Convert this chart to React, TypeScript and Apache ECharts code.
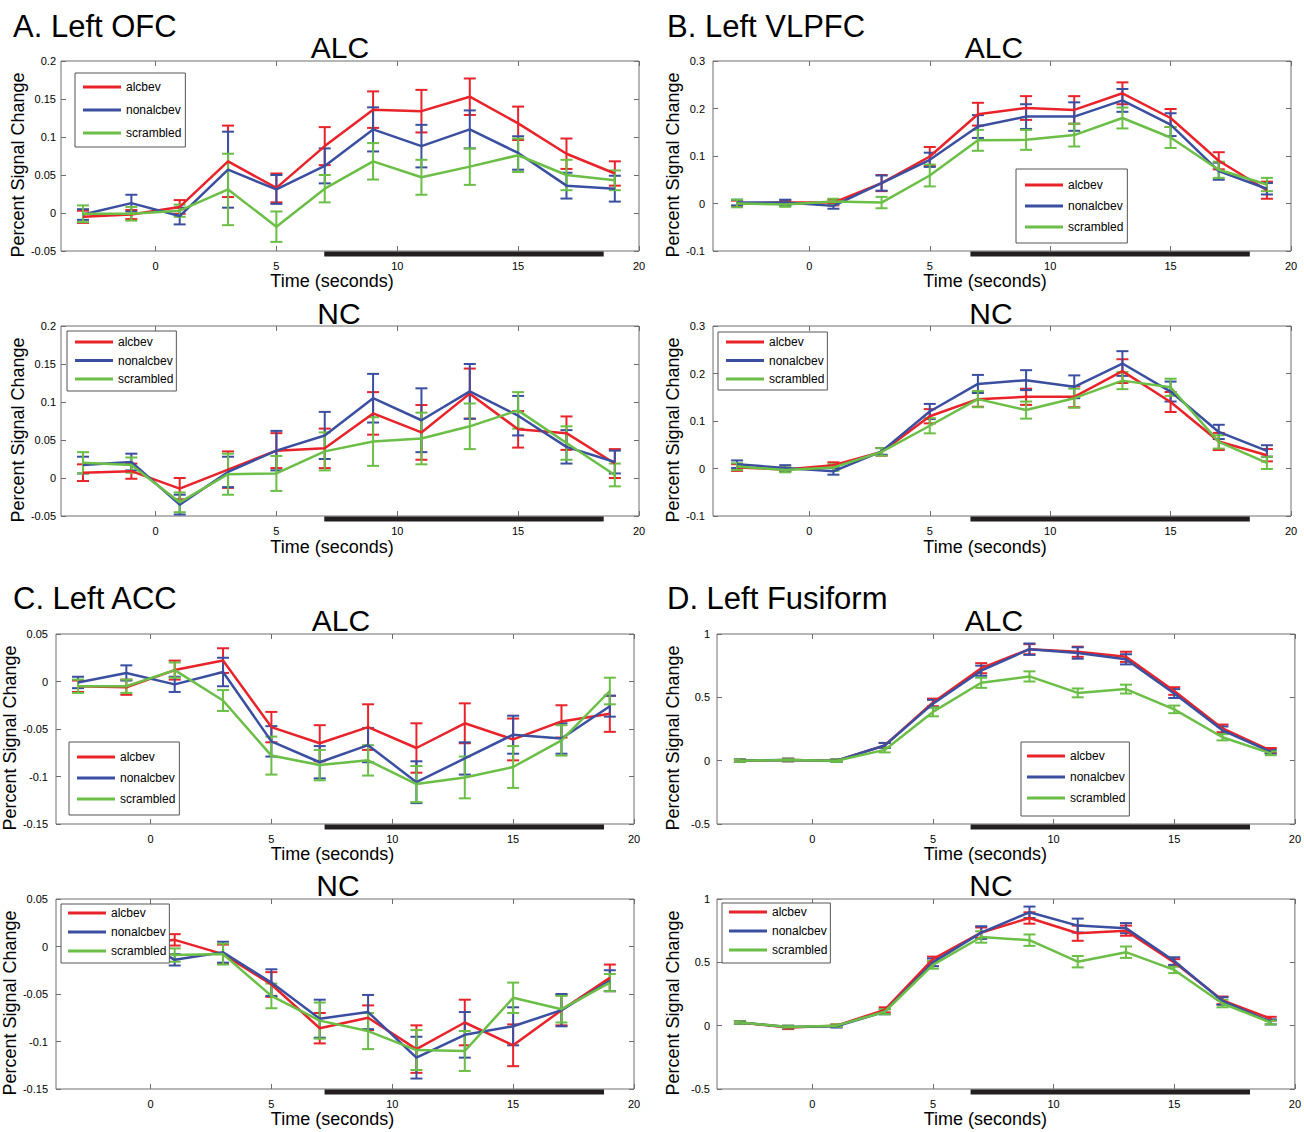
import React, { useEffect, useRef } from 'react';
import * as echarts from 'echarts';

const FONT = '"Liberation Sans", Arial, Helvetica, sans-serif';

// ---------- shared ----------
const timePoints = [-3, -1, 1, 3, 5, 7, 9, 11, 13, 15, 17, 19];
const conditionNames = ['alcbev', 'nonalcbev', 'scrambled'];
const conditionColors = ['#E8232A', '#3B4FA1', '#6BBE46'];
const xTickValues = [0, 5, 10, 15, 20];
const regionTitles = ['A. Left OFC', 'B. Left VLPFC', 'C. Left ACC', 'D. Left Fusiform'];
const groupTitles = ['ALC', 'NC'];

// ---------- A. Left OFC ----------
const ofcAlcAlcbev = [-0.005, -0.002, 0.008, 0.068, 0.033, 0.088, 0.136, 0.134, 0.153, 0.118, 0.078, 0.052];
const ofcAlcAlcbevErr = [0.008, 0.006, 0.009, 0.047, 0.019, 0.025, 0.024, 0.028, 0.024, 0.022, 0.02, 0.016];
const ofcAlcNonalcbev = [-0.002, 0.013, -0.004, 0.057, 0.031, 0.062, 0.11, 0.088, 0.11, 0.079, 0.036, 0.032];
const ofcAlcNonalcbevErr = [0.007, 0.011, 0.011, 0.05, 0.019, 0.023, 0.029, 0.028, 0.025, 0.022, 0.017, 0.017];
const ofcAlcScrambled = [-0.001, -0.001, 0.003, 0.031, -0.018, 0.032, 0.068, 0.047, 0.061, 0.076, 0.05, 0.043];
const ofcAlcScrambledErr = [0.011, 0.009, 0.008, 0.047, 0.02, 0.018, 0.024, 0.023, 0.024, 0.022, 0.02, 0.013];

const ofcNcAlcbev = [0.007, 0.009, -0.014, 0.011, 0.036, 0.039, 0.085, 0.06, 0.111, 0.064, 0.059, 0.019];
const ofcNcAlcbevErr = [0.011, 0.01, 0.014, 0.024, 0.023, 0.026, 0.028, 0.036, 0.033, 0.024, 0.022, 0.019];
const ofcNcNonalcbev = [0.017, 0.021, -0.035, 0.008, 0.036, 0.056, 0.105, 0.076, 0.114, 0.082, 0.041, 0.021];
const ofcNcNonalcbevErr = [0.011, 0.011, 0.013, 0.02, 0.026, 0.031, 0.032, 0.042, 0.036, 0.026, 0.022, 0.015];
const ofcNcScrambled = [0.02, 0.017, -0.032, 0.005, 0.006, 0.035, 0.048, 0.052, 0.068, 0.089, 0.046, 0.004];
const ofcNcScrambledErr = [0.014, 0.01, 0.013, 0.027, 0.023, 0.025, 0.032, 0.034, 0.03, 0.024, 0.022, 0.015];

// ---------- B. Left VLPFC ----------
const vlpfcAlcAlcbev = [0.0, 0.002, 0.002, 0.043, 0.099, 0.188, 0.201, 0.197, 0.232, 0.18, 0.09, 0.028];
const vlpfcAlcAlcbevErr = [0.006, 0.005, 0.006, 0.017, 0.02, 0.024, 0.025, 0.029, 0.023, 0.019, 0.018, 0.018];
const vlpfcAlcNonalcbev = [0.002, 0.002, -0.005, 0.043, 0.092, 0.162, 0.183, 0.183, 0.217, 0.166, 0.068, 0.031];
const vlpfcAlcNonalcbevErr = [0.006, 0.006, 0.006, 0.016, 0.015, 0.024, 0.026, 0.03, 0.024, 0.024, 0.018, 0.012];
const vlpfcAlcScrambled = [0.0, -0.002, 0.004, 0.002, 0.059, 0.133, 0.134, 0.144, 0.18, 0.139, 0.071, 0.04];
const vlpfcAlcScrambledErr = [0.008, 0.005, 0.006, 0.012, 0.023, 0.022, 0.021, 0.024, 0.022, 0.022, 0.017, 0.014];

const vlpfcNcAlcbev = [0.002, -0.002, 0.007, 0.035, 0.11, 0.146, 0.151, 0.151, 0.205, 0.14, 0.057, 0.028];
const vlpfcNcAlcbevErr = [0.007, 0.004, 0.006, 0.008, 0.015, 0.016, 0.017, 0.022, 0.025, 0.021, 0.018, 0.013];
const vlpfcNcNonalcbev = [0.009, 0.001, -0.006, 0.036, 0.12, 0.178, 0.186, 0.172, 0.221, 0.162, 0.077, 0.037];
const vlpfcNcNonalcbevErr = [0.008, 0.006, 0.007, 0.007, 0.016, 0.019, 0.021, 0.024, 0.026, 0.021, 0.015, 0.012];
const vlpfcNcScrambled = [0.004, -0.003, 0.002, 0.035, 0.09, 0.146, 0.123, 0.148, 0.185, 0.171, 0.056, 0.012];
const vlpfcNcScrambledErr = [0.007, 0.005, 0.007, 0.008, 0.016, 0.017, 0.018, 0.02, 0.018, 0.018, 0.014, 0.013];

// ---------- C. Left ACC ----------
const accAlcAlcbev = [-0.005, -0.006, 0.012, 0.022, -0.048, -0.065, -0.048, -0.07, -0.044, -0.061, -0.042, -0.034];
const accAlcAlcbevErr = [0.006, 0.008, 0.01, 0.013, 0.016, 0.019, 0.024, 0.026, 0.021, 0.022, 0.017, 0.019];
const accAlcNonalcbev = [-0.001, 0.009, -0.003, 0.01, -0.063, -0.085, -0.067, -0.106, -0.081, -0.056, -0.06, -0.026];
const accAlcNonalcbevErr = [0.006, 0.008, 0.008, 0.015, 0.016, 0.017, 0.018, 0.022, 0.017, 0.02, 0.016, 0.011];
const accAlcScrambled = [-0.005, -0.005, 0.012, -0.02, -0.078, -0.088, -0.083, -0.108, -0.101, -0.09, -0.062, -0.01];
const accAlcScrambledErr = [0.007, 0.007, 0.008, 0.011, 0.02, 0.016, 0.016, 0.019, 0.022, 0.022, 0.016, 0.014];

const accNcAlcbev = [-0.003, 0.0, 0.007, -0.008, -0.04, -0.086, -0.075, -0.108, -0.08, -0.104, -0.067, -0.033];
const accNcAlcbevErr = [0.006, 0.006, 0.006, 0.01, 0.013, 0.016, 0.013, 0.025, 0.024, 0.022, 0.016, 0.014];
const accNcNonalcbev = [0.0, 0.015, -0.014, -0.006, -0.038, -0.076, -0.069, -0.117, -0.093, -0.084, -0.067, -0.036];
const accNcNonalcbevErr = [0.006, 0.006, 0.006, 0.011, 0.014, 0.02, 0.018, 0.022, 0.024, 0.02, 0.017, 0.011];
const accNcScrambled = [-0.003, -0.001, -0.009, -0.008, -0.052, -0.078, -0.089, -0.109, -0.11, -0.054, -0.066, -0.038];
const accNcScrambledErr = [0.006, 0.006, 0.007, 0.011, 0.013, 0.019, 0.019, 0.021, 0.021, 0.016, 0.014, 0.009];

// ---------- D. Left Fusiform ----------
const fusAlcAlcbev = [0.0, 0.005, 0.0, 0.12, 0.46, 0.73, 0.88, 0.86, 0.82, 0.55, 0.255, 0.08];
const fusAlcAlcbevErr = [0.01, 0.01, 0.01, 0.02, 0.03, 0.04, 0.04, 0.04, 0.04, 0.03, 0.03, 0.02];
const fusAlcNonalcbev = [0.0, 0.006, 0.0, 0.12, 0.45, 0.71, 0.88, 0.85, 0.8, 0.53, 0.24, 0.07];
const fusAlcNonalcbevErr = [0.01, 0.01, 0.01, 0.02, 0.03, 0.04, 0.045, 0.045, 0.04, 0.035, 0.03, 0.015];
const fusAlcScrambled = [0.0, 0.005, 0.0, 0.085, 0.385, 0.615, 0.665, 0.535, 0.565, 0.405, 0.185, 0.058];
const fusAlcScrambledErr = [0.01, 0.01, 0.01, 0.02, 0.035, 0.04, 0.04, 0.035, 0.035, 0.03, 0.025, 0.015];

const fusNcAlcbev = [0.025, -0.015, 0.0, 0.125, 0.525, 0.735, 0.85, 0.73, 0.75, 0.5, 0.2, 0.055];
const fusNcAlcbevErr = [0.01, 0.012, 0.01, 0.02, 0.02, 0.04, 0.045, 0.06, 0.04, 0.025, 0.03, 0.015];
const fusNcNonalcbev = [0.025, -0.01, -0.005, 0.11, 0.5, 0.735, 0.895, 0.79, 0.77, 0.51, 0.195, 0.03];
const fusNcNonalcbevErr = [0.01, 0.01, 0.01, 0.02, 0.03, 0.05, 0.045, 0.055, 0.04, 0.03, 0.03, 0.02];
const fusNcScrambled = [0.025, -0.01, 0.0, 0.11, 0.48, 0.7, 0.675, 0.505, 0.58, 0.44, 0.175, 0.025];
const fusNcScrambledErr = [0.01, 0.01, 0.01, 0.02, 0.03, 0.045, 0.045, 0.045, 0.045, 0.025, 0.03, 0.015];

// axis ranges per region (A, B, C, D)
const yMins = [-0.05, -0.1, -0.15, -0.5];
const yMaxs = [0.2, 0.3, 0.05, 1];
const ySteps = [0.05, 0.1, 0.05, 0.5];
const xMins = [-3.91, -4.0, -3.91, -3.95];
const xMax = 20;
// stimulus period (black bar under the axis), per region
const stimOnsets = [6.98, 6.69, 7.2, 6.56];
const stimOffsets = [18.54, 18.29, 18.76, 18.14];

// panel order: A-ALC, A-NC, B-ALC, B-NC, C-ALC, C-NC, D-ALC, D-NC
const panelMeans = [
  [ofcAlcAlcbev, ofcAlcNonalcbev, ofcAlcScrambled],
  [ofcNcAlcbev, ofcNcNonalcbev, ofcNcScrambled],
  [vlpfcAlcAlcbev, vlpfcAlcNonalcbev, vlpfcAlcScrambled],
  [vlpfcNcAlcbev, vlpfcNcNonalcbev, vlpfcNcScrambled],
  [accAlcAlcbev, accAlcNonalcbev, accAlcScrambled],
  [accNcAlcbev, accNcNonalcbev, accNcScrambled],
  [fusAlcAlcbev, fusAlcNonalcbev, fusAlcScrambled],
  [fusNcAlcbev, fusNcNonalcbev, fusNcScrambled],
];
const panelErrs = [
  [ofcAlcAlcbevErr, ofcAlcNonalcbevErr, ofcAlcScrambledErr],
  [ofcNcAlcbevErr, ofcNcNonalcbevErr, ofcNcScrambledErr],
  [vlpfcAlcAlcbevErr, vlpfcAlcNonalcbevErr, vlpfcAlcScrambledErr],
  [vlpfcNcAlcbevErr, vlpfcNcNonalcbevErr, vlpfcNcScrambledErr],
  [accAlcAlcbevErr, accAlcNonalcbevErr, accAlcScrambledErr],
  [accNcAlcbevErr, accNcNonalcbevErr, accNcScrambledErr],
  [fusAlcAlcbevErr, fusAlcNonalcbevErr, fusAlcScrambledErr],
  [fusNcAlcbevErr, fusNcNonalcbevErr, fusNcScrambledErr],
];

// ---------- layout (pixels) ----------
const regionLayout = [
  { titleX: 13, titleY: 26 },
  { titleX: 667, titleY: 26 },
  { titleX: 13, titleY: 598 },
  { titleX: 667, titleY: 598 },
];
const panelLayout = [
  { left: 61, top: 61, titleX: 340, titleY: 47, xNameGap: 17, xNameShift: 36, yNameGap: 31, yLabelMargin: 5,
    legend: { left: 75, top: 73, gap: 9, pad: [7, 4, 7, 8] } },
  { left: 61, top: 326, titleX: 339, titleY: 313, xNameGap: 22, xNameShift: 36, yNameGap: 31, yLabelMargin: 5,
    legend: { left: 67, top: 331, gap: 4.5, pad: [4, 3, 5, 8] } },
  { left: 713, top: 61, titleX: 994, titleY: 47, xNameGap: 17, xNameShift: 34, yNameGap: 30, yLabelMargin: 8,
    legend: { left: 1016, top: 169, gap: 7, pad: [9, 4, 9, 9] } },
  { left: 713, top: 326, titleX: 991, titleY: 313, xNameGap: 22, xNameShift: 34, yNameGap: 30, yLabelMargin: 8,
    legend: { left: 718, top: 332, gap: 4.5, pad: [3, 3, 4, 8] } },
  { left: 56, top: 634, titleX: 341, titleY: 620, xNameGap: 14, xNameShift: 25, yNameGap: 26, yLabelMargin: 8,
    legend: { left: 69, top: 742, gap: 7, pad: [8, 4, 9, 8] } },
  { left: 56, top: 899, titleX: 338, titleY: 885, xNameGap: 21, xNameShift: 25, yNameGap: 26, yLabelMargin: 8,
    legend: { left: 61, top: 904, gap: 5, pad: [2, 3, 5, 7] } },
  { left: 717, top: 634, titleX: 994, titleY: 620, xNameGap: 14, xNameShift: 41, yNameGap: 35, yLabelMargin: 7,
    legend: { left: 1021, top: 742, gap: 7, pad: [7, 4, 11, 6] } },
  { left: 717, top: 899, titleX: 991, titleY: 885, xNameGap: 21, xNameShift: 41, yNameGap: 35, yLabelMargin: 7,
    legend: { left: 722, top: 903, gap: 5, pad: [2, 3, 6, 7] } },
];
const PLOT_W = 578;
const PLOT_H = 190;
const AXIS_GRAY = '#6e6e6e';

export default function App() {
  const ref = useRef<HTMLDivElement>(null);

  useEffect(() => {
    if (!ref.current) return;
    const chart = echarts.init(ref.current, null, { renderer: 'svg' });

    const grid: any[] = [];
    const xAxis: any[] = [];
    const yAxis: any[] = [];
    const series: any[] = [];
    const legend: any[] = [];
    const graphic: any[] = [];

    const tickFont = { fontFamily: FONT, fontSize: 11, color: '#000' };

    panelMeans.forEach((means, i) => {
      const r = Math.floor(i / 2);
      const L = panelLayout[i];
      const yMin = yMins[r];
      const yMax = yMaxs[r];
      const xMin = xMins[r];

      grid.push({
        left: L.left, top: L.top, width: PLOT_W, height: PLOT_H,
        show: true, borderColor: AXIS_GRAY, borderWidth: 1, backgroundColor: '#fff',
      });

      const xBase = {
        type: 'value', gridIndex: i, min: xMin, max: xMax,
        axisLine: { show: false, onZero: false }, splitLine: { show: false },
        axisTick: { show: true, inside: true, length: 5, customValues: xTickValues, lineStyle: { color: AXIS_GRAY } },
      };
      xAxis.push({
        ...xBase, position: 'bottom',
        axisLabel: { ...tickFont, customValues: xTickValues, margin: 9 },
        name: 'Time (seconds)', nameLocation: 'middle', nameGap: L.xNameGap,
        nameTextStyle: { fontFamily: FONT, fontSize: 18, color: '#000', padding: [0, L.xNameShift, 0, 0] },
      });
      xAxis.push({ ...xBase, position: 'top', axisLabel: { show: false } });

      const yBase = {
        type: 'value', gridIndex: i, min: yMin, max: yMax, interval: ySteps[r],
        axisLine: { show: false, onZero: false }, splitLine: { show: false },
        axisTick: { show: true, inside: true, length: 5, lineStyle: { color: AXIS_GRAY } },
      };
      yAxis.push({
        ...yBase, position: 'left',
        axisLabel: { ...tickFont, margin: L.yLabelMargin, formatter: (v: number) => String(parseFloat(v.toFixed(4))) },
        name: 'Percent Signal Change', nameLocation: 'middle', nameGap: L.yNameGap,
        nameTextStyle: { fontFamily: FONT, fontSize: 18, color: '#000', padding: [0, 18, 0, 0] },
      });
      yAxis.push({ ...yBase, position: 'right', axisLabel: { show: false } });

      // stimulus bar
      series.push({
        type: 'custom', name: 'stimulus', xAxisIndex: 2 * i, yAxisIndex: 2 * i,
        data: [[stimOnsets[r], yMin, stimOffsets[r]]], encode: { x: [0, 2], y: 1 },
        silent: true, clip: false, z: 6,
        renderItem: (_p: any, api: any) => {
          const a = api.coord([api.value(0), api.value(1)]);
          const b = api.coord([api.value(2), api.value(1)]);
          return { type: 'rect', shape: { x: a[0], y: a[1] + 0.5, width: b[0] - a[0], height: 5 }, style: { fill: '#231F20' } };
        },
      });

      means.forEach((vals, c) => {
        const color = conditionColors[c];
        const errs = panelErrs[i][c];
        series.push({
          type: 'line', name: conditionNames[c], xAxisIndex: 2 * i, yAxisIndex: 2 * i,
          data: timePoints.map((t, k) => [t, vals[k]]),
          symbol: 'none', lineStyle: { color, width: 2.5 }, itemStyle: { color },
          z: 3, silent: true,
        });
        series.push({
          type: 'custom', name: conditionNames[c] + ' SE', xAxisIndex: 2 * i, yAxisIndex: 2 * i,
          data: timePoints.map((t, k) => [t, vals[k], errs[k]]), encode: { x: 0, y: 1 },
          z: 3, silent: true,
          renderItem: (_p: any, api: any) => {
            const x = api.value(0), y = api.value(1), e = api.value(2);
            const top = api.coord([x, y + e]);
            const bot = api.coord([x, y - e]);
            const w = 6;
            const st = { stroke: color, lineWidth: 2 };
            return {
              type: 'group',
              children: [
                { type: 'line', shape: { x1: top[0], y1: top[1], x2: bot[0], y2: bot[1] }, style: st },
                { type: 'line', shape: { x1: top[0] - w, y1: top[1], x2: top[0] + w, y2: top[1] }, style: st },
                { type: 'line', shape: { x1: bot[0] - w, y1: bot[1], x2: bot[0] + w, y2: bot[1] }, style: st },
              ],
            };
          },
        });
      });

      legend.push({
        data: conditionNames, orient: 'vertical', left: L.legend.left, top: L.legend.top,
        itemWidth: 38, itemHeight: 3, itemGap: L.legend.gap, icon: 'rect',
        padding: L.legend.pad, borderColor: '#555', borderWidth: 1, backgroundColor: '#fff',
        textStyle: { fontFamily: FONT, fontSize: 12, lineHeight: 14, color: '#000' },
        selectedMode: false, z: 10,
      });

      graphic.push({
        type: 'text', x: L.titleX, y: L.titleY, z: 20,
        style: {
          text: groupTitles[i % 2], fontFamily: FONT, fontSize: 30, fill: '#000',
          textAlign: 'center', textVerticalAlign: 'middle', align: 'center', verticalAlign: 'middle',
        },
      });
    });

    regionTitles.forEach((t, r) => {
      graphic.push({
        type: 'text', x: regionLayout[r].titleX, y: regionLayout[r].titleY, z: 20,
        style: {
          text: t, fontFamily: FONT, fontSize: 31, fill: '#000',
          textAlign: 'left', textVerticalAlign: 'middle', align: 'left', verticalAlign: 'middle',
        },
      });
    });

    chart.setOption({
      animation: false,
      backgroundColor: '#fff',
      grid, xAxis, yAxis, series, legend, graphic,
    });

    return () => chart.dispose();
  }, []);

  return (
    <div
      ref={ref}
      style={{ position: 'fixed', left: 0, top: 0, width: 1304, height: 1132, background: '#fff' }}
    />
  );
}
